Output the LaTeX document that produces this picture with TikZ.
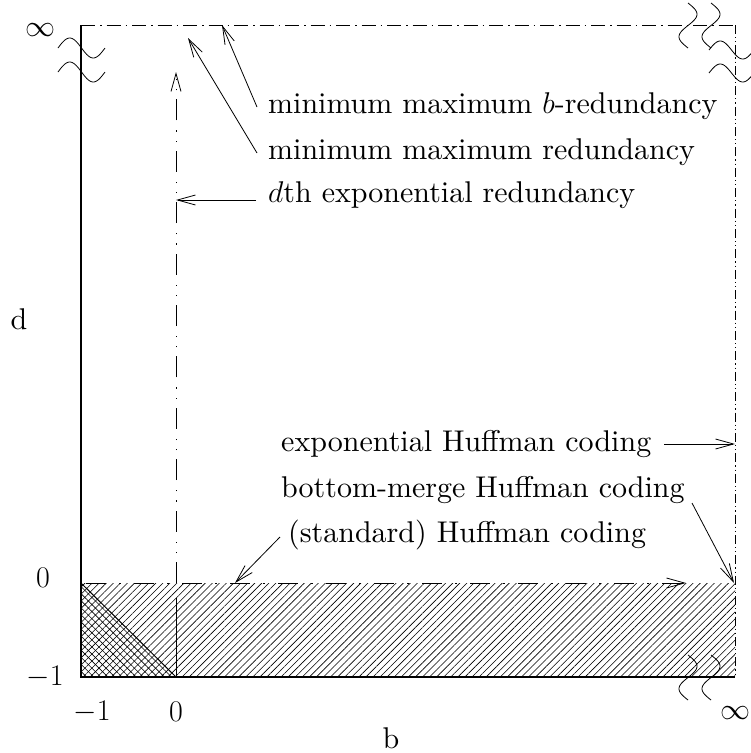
\RequirePackage{fix-cm}
\documentclass[tikz,border=0pt]{standalone}
\usepackage{fontspec}
\setmainfont{lmroman10-regular}[Extension=.otf, ItalicFont=lmroman10-italic, BoldFont=lmroman10-bold]
\usetikzlibrary{arrows.meta,patterns.meta}
\begin{document}
\begin{tikzpicture}[x=1pt,y=-1pt,
  lbl/.style={inner sep=0pt, font=\fontsize{30}{36}\selectfont},
  axisline/.style={line width=1.2pt},
  dashdot/.style={line width=0.8pt, dash pattern=on 14pt off 5pt on 1.5pt off 5pt},
  zeroline/.style={line width=0.8pt, dash pattern=on 20pt off 13pt on 1.5pt off 13.5pt, dash phase=43pt},
  dashdotdot/.style={line width=0.8pt, dash pattern=on 9pt off 3pt on 1.2pt off 3pt on 1.2pt off 3pt},
  bline/.style={line width=0.8pt, dash pattern=on 21pt off 9pt on 1.2pt off 9pt on 1.2pt off 10pt},
  arr/.style={line width=0.8pt, -{Straight Barb[length=18pt,width=10pt]}},
  wave/.style={line width=0.8pt}]
\useasboundingbox (0,0) rectangle (751,753);

% hatched region
\fill[pattern={Lines[angle=45,distance=5pt,line width=0.6pt]}] (81,583) rectangle (735,677);
\fill[pattern={Lines[angle=-45,distance=5pt,line width=0.6pt]}] (81,583) -- (81,677) -- (176,677) -- cycle;
\draw[line width=1pt] (81,583) -- (176,677);

% frame
\draw[axisline] (81,25) -- (81,677) -- (735,677);
\draw[dashdot] (81,25) -- (735,25);
\draw[dashdotdot] (735,25) -- (735,677);

% coordinates
\coordinate (d0s) at (81,583);
\coordinate (d0e) at (686,583);
\coordinate (b0s) at (176,583);
\coordinate (b0e) at (176,72);
\coordinate (b0low) at (176,598);
\coordinate (b0bot) at (176,677);

\draw[zeroline,arr] (d0s) -- (d0e);
\draw[bline,arr] (b0s) -- (b0e);
\draw[line width=0.8pt] (b0low) -- (b0bot);

% labels
\node[lbl] (infL) at (40,30) {$\infty$};
\node[lbl] (zeroL) at (43,578) {$0$};
\node[lbl] (m1L) at (45,677) {$-1$};
\node[lbl] (dlab) at (19,319) {d};
\node[lbl] (m1B) at (92,712) {$-1$};
\node[lbl] (zeroB) at (176,712) {$0$};
\node[lbl] (infB) at (735,713) {$\infty$};
\node[lbl] (blab) at (391,738) {b};

\node[lbl,anchor=mid west] (t1) at (268,111) {minimum maximum $b$-redundancy};
\node[lbl,anchor=mid west] (t2) at (268,157) {minimum maximum redundancy};
\node[lbl,anchor=mid west] (t3) at (268,200) {$d$th exponential redundancy};
\node[lbl,anchor=mid west] (t4) at (281,449) {exponential Huffman coding};
\node[lbl,anchor=mid west] (t5) at (281,495) {bottom-merge Huffman coding};
\node[lbl,anchor=mid west] (t6) at (288,540) {(standard) Huffman coding};

\coordinate (a1s) at (257,107);
\coordinate (a1e) at (222,25);
\coordinate (a2s) at (257,153);
\coordinate (a2e) at (188,38);
\coordinate (a3s) at (256,200);
\coordinate (a3e) at (176,200);
\coordinate (a4s) at (664,444);
\coordinate (a4e) at (735,444);
\coordinate (a5s) at (692,503);
\coordinate (a5e) at (734,583);
\coordinate (a6s) at (280,537);
\coordinate (a6e) at (235,583);
\draw[arr] (a1s) -- (a1e);
\draw[arr] (a2s) -- (a2e);
\draw[arr] (a3s) -- (a3e);
\draw[arr] (a4s) -- (a4e);
\draw[arr] (a5s) -- (a5e);
\draw[arr] (a6s) -- (a6e);

% break marks
\draw[wave] plot[domain=0:47,samples=40,variable=\t] ({58+\t},{48-10*sin(\t*7.6596)});
\draw[wave] plot[domain=0:47,samples=40,variable=\t] ({58+\t},{72-10*sin(\t*7.6596)});
\draw[wave] plot[domain=0:45,samples=40,variable=\t] ({688+9*sin(\t*8)},{3+\t});
\draw[wave] plot[domain=0:45,samples=40,variable=\t] ({711+9*sin(\t*8)},{3+\t});
\draw[wave] plot[domain=0:43,samples=40,variable=\t] ({709+\t},{50-9*sin(\t*8)});
\draw[wave] plot[domain=0:43,samples=40,variable=\t] ({709+\t},{73-9*sin(\t*8)});
\draw[wave] plot[domain=0:45,samples=40,variable=\t] ({688+9*sin(\t*8)},{655+\t});
\draw[wave] plot[domain=0:45,samples=40,variable=\t] ({711+9*sin(\t*8)},{655+\t});
\end{tikzpicture}
\end{document}
